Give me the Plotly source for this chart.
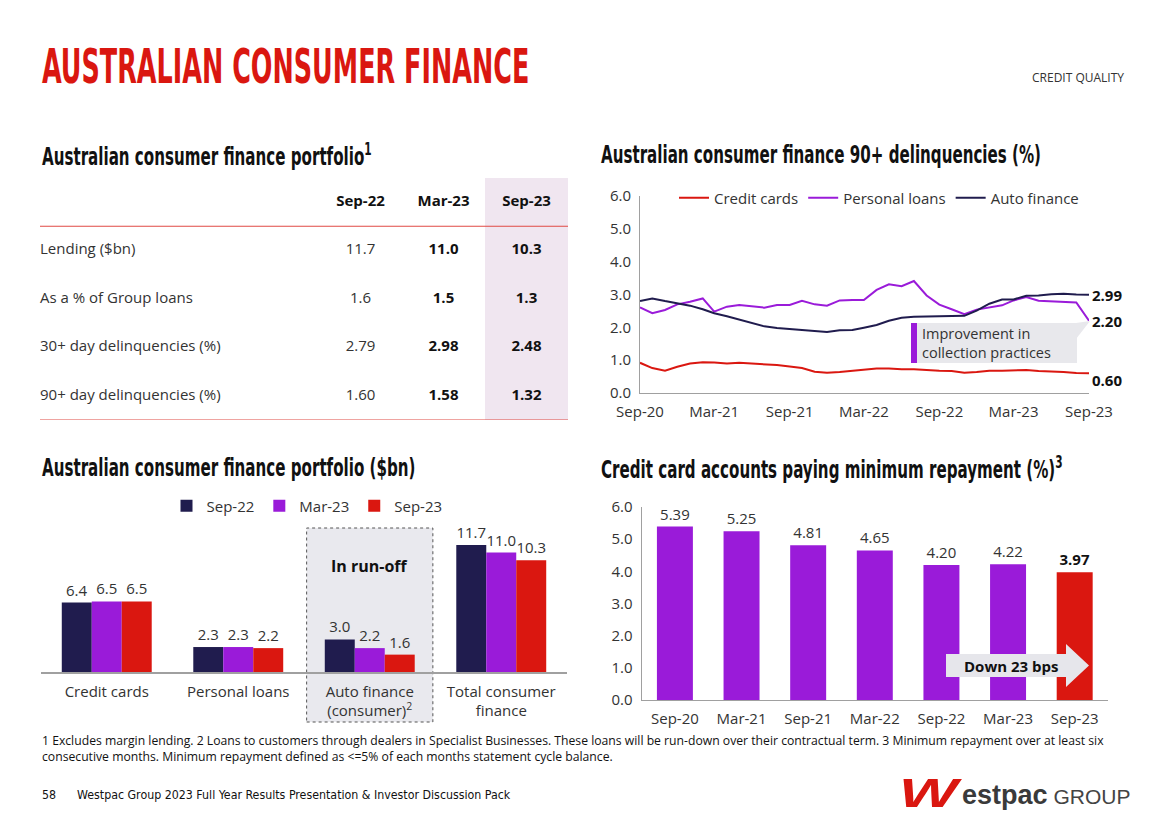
import json
import re
import plotly.graph_objects as go
import pandas as pd

W, H = 1168, 825


def px(x):
    return x / W


def py(y):
    return 1 - y / H


RED = "#DA1710"
NAVY = "#201C4E"
PURPLE = "#9A1BD9"
TXT = "#333333"
DARK = "#111111"
AXIS = "#A0A0A0"
BODY = "Open Sans"
COND = "DejaVu Sans Condensed, DejaVu Sans, sans-serif"
FS = 15

# ---------------- data ----------------
table_cols = ["Sep-22", "Mar-23", "Sep-23"]
table_rows = ["Lending ($bn)", "As a % of Group loans",
              "30+ day delinquencies (%)", "90+ day delinquencies (%)"]
table_sep22 = ["11.7", "1.6", "2.79", "1.60"]
table_mar23 = ["11.0", "1.5", "2.98", "1.58"]
table_sep23 = ["10.3", "1.3", "2.48", "1.32"]

line_months = pd.date_range("2020-09-01", "2023-09-01", freq="MS")
credit_cards = [0.92, 0.76, 0.68, 0.80, 0.90, 0.94, 0.93, 0.90, 0.92, 0.90, 0.86, 0.85,
                0.81, 0.76, 0.65, 0.62, 0.64, 0.67, 0.70, 0.75, 0.75, 0.72, 0.72, 0.69,
                0.68, 0.67, 0.62, 0.64, 0.68, 0.68, 0.69, 0.70, 0.67, 0.66, 0.64, 0.61, 0.60]
personal_loans = [2.61, 2.43, 2.53, 2.70, 2.78, 2.88, 2.48, 2.63, 2.68, 2.64, 2.60, 2.68,
                  2.68, 2.81, 2.70, 2.66, 2.82, 2.83, 2.83, 3.14, 3.31, 3.25, 3.41, 2.97,
                  2.69, 2.55, 2.40, 2.54, 2.61, 2.67, 2.82, 2.92, 2.81, 2.79, 2.79, 2.76, 2.20]
auto_finance = [2.80, 2.88, 2.80, 2.72, 2.66, 2.55, 2.43, 2.34, 2.24, 2.13, 2.03, 1.98,
                1.95, 1.90, 1.88, 1.86, 1.91, 1.92, 1.99, 2.07, 2.20, 2.29, 2.32, 2.33,
                2.33, 2.33, 2.35, 2.51, 2.72, 2.85, 2.85, 2.96, 2.97, 3.01, 3.02, 3.00, 2.99]
line_ticklabels = ["Sep-20", "Mar-21", "Sep-21", "Mar-22", "Sep-22", "Mar-23", "Sep-23"]

portfolio_cats = ["Credit cards", "Personal loans",
                  "Auto finance<br>(consumer)<sup>2</sup>", "Total consumer<br>finance"]
portfolio_sep22 = [6.4, 2.3, 3.0, 11.7]
portfolio_mar23 = [6.5, 2.3, 2.2, 11.0]
portfolio_sep23 = [6.5, 2.2, 1.6, 10.3]

minrep_periods = ["Sep-20", "Mar-21", "Sep-21", "Mar-22", "Sep-22", "Mar-23", "Sep-23"]
minrep_values = [5.39, 5.25, 4.81, 4.65, 4.20, 4.22, 3.97]

fig = go.Figure()

# ---------------- table ----------------
row_pos = list(range(1, len(table_rows) + 1))
label_x = 1 - (360.5 - 40) / 83
fig.add_trace(go.Scatter(x=[label_x] * len(table_rows), y=row_pos, text=table_rows,
                         mode="text", textposition="middle right",
                         textfont=dict(family=BODY, size=FS, color=TXT),
                         xaxis="x", yaxis="y", showlegend=False, hoverinfo="skip",
                         cliponaxis=False))
fig.add_trace(go.Scatter(x=[1, 2, 3], y=[0, 0, 0], text=table_cols, mode="text",
                         textfont=dict(family=BODY, size=FS, color=DARK, weight="bold"),
                         xaxis="x", yaxis="y", showlegend=False, hoverinfo="skip",
                         cliponaxis=False))
for ci, (vals, bold) in enumerate([(table_sep22, False), (table_mar23, True),
                                   (table_sep23, True)]):
    fig.add_trace(go.Scatter(x=[ci + 1] * len(vals), y=row_pos, text=vals, mode="text",
                             textfont=dict(family=BODY, size=FS,
                                           color=DARK if bold else TXT,
                                           weight="bold" if bold else "normal"),
                             xaxis="x", yaxis="y", showlegend=False, hoverinfo="skip",
                             cliponaxis=False))

# ---------------- line chart ----------------
for name, vals, col in [("Credit cards", credit_cards, RED),
                        ("Personal loans", personal_loans, PURPLE),
                        ("Auto finance", auto_finance, NAVY)]:
    fig.add_trace(go.Scatter(x=line_months, y=vals, name=name, mode="lines",
                             line=dict(color=col, width=2), xaxis="x2", yaxis="y2",
                             legend="legend2", hoverinfo="skip", cliponaxis=False))

# ---------------- portfolio bars ----------------
for name, vals, col in [("Sep-22", portfolio_sep22, NAVY),
                        ("Mar-23", portfolio_mar23, PURPLE),
                        ("Sep-23", portfolio_sep23, RED)]:
    fig.add_trace(go.Bar(x=portfolio_cats, y=vals, name=name,
                         marker=dict(color=col, line=dict(width=0)),
                         text=[f"{v:.1f}" for v in vals], textposition="outside",
                         textfont=dict(family=BODY, size=FS, color=TXT),
                         constraintext="none", cliponaxis=False,
                         xaxis="x3", yaxis="y3", legend="legend", hoverinfo="skip"))

# ---------------- min repayment bars ----------------
n = len(minrep_values)
fig.add_trace(go.Bar(x=minrep_periods, y=minrep_values,
                     marker=dict(color=[PURPLE] * (n - 1) + [RED], line=dict(width=0)),
                     width=0.54,
                     text=[f"{v:.2f}" for v in minrep_values[:-1]] + [f"<b>{minrep_values[-1]:.2f}</b>"],
                     textposition="outside", constraintext="none", cliponaxis=False,
                     textfont=dict(family=BODY, size=FS, color=[TXT] * (n - 1) + [DARK]),
                     xaxis="x4", yaxis="y4", showlegend=False, hoverinfo="skip"))

tickfont = dict(family=BODY, size=FS, color=TXT)

fig.update_layout(
    width=W, height=H, margin=dict(l=0, r=0, t=0, b=0, pad=0, autoexpand=False),
    paper_bgcolor="white", plot_bgcolor="rgba(0,0,0,0)",
    bargap=0.316, bargroupgap=0, barmode="group",
    xaxis=dict(domain=[px(40), px(568)], range=[label_x, 3.5], visible=False, fixedrange=True),
    yaxis=dict(domain=[py(420), py(178)], range=[4.495, -0.495], visible=False, fixedrange=True),
    xaxis2=dict(domain=[px(640), px(1089)], type="date",
                range=[line_months[0], line_months[-1]],
                tickvals=list(line_months[::6]), ticktext=line_ticklabels,
                showline=True, linecolor=AXIS, linewidth=1, showgrid=False, zeroline=False,
                ticks="", tickfont=tickfont, anchor="y2", automargin=False,
                ticklabelstandoff=5),
    yaxis2=dict(domain=[py(393), py(196)], range=[0, 6], dtick=1, tickformat=".1f",
                showline=True, linecolor=AXIS, linewidth=1, showgrid=False, zeroline=False,
                ticks="", tickfont=tickfont, anchor="x2", ticklabelstandoff=5, automargin=False),
    xaxis3=dict(domain=[px(41), px(567)], showline=True, linecolor=AXIS, linewidth=1.5,
                showgrid=False, zeroline=False, ticks="", tickfont=tickfont, anchor="y3",
                automargin=False, ticklabelstandoff=5),
    yaxis3=dict(domain=[py(672), py(520)], range=[0, 14], visible=False, anchor="x3"),
    xaxis4=dict(domain=[px(641.6), px(1108)], showline=True, linecolor=AXIS, linewidth=1,
                showgrid=False, zeroline=False, ticks="", tickfont=tickfont, anchor="y4",
                automargin=False, ticklabelstandoff=5),
    yaxis4=dict(domain=[py(700), py(507)], range=[0, 6], dtick=1, tickformat=".1f",
                showline=True, linecolor=AXIS, linewidth=1, showgrid=False, zeroline=False,
                ticks="", tickfont=tickfont, anchor="x4", ticklabelstandoff=5, automargin=False),
    legend=dict(orientation="h", x=px(307), xanchor="center", y=py(506), yanchor="middle",
                font=dict(family=BODY, size=FS, color=TXT), bgcolor="rgba(0,0,0,0)",
                itemwidth=30, traceorder="normal"),
    legend2=dict(orientation="h", x=px(674), xanchor="left", y=py(198), yanchor="middle",
                 font=dict(family=BODY, size=FS, color=TXT), bgcolor="rgba(0,0,0,0)",
                 itemwidth=30, traceorder="normal"),
)

shapes = []
# table decorations
shapes.append(dict(type="rect", xref="x", yref="y domain", x0=2.5, x1=3.5, y0=0, y1=1,
                   fillcolor="#F0E6F0", line=dict(width=0), layer="below"))
for yv in [0.5, 4.495]:
    shapes.append(dict(type="line", xref="x domain", yref="y", x0=0, x1=1, y0=yv, y1=yv,
                       line=dict(color="#E04A44", width=1.2)))
# run-off box
shapes.append(dict(type="rect", xref="x3", yref="paper", x0=1.52, x1=2.48,
                   y0=py(722), y1=py(528), fillcolor="#E9E9EE",
                   line=dict(color="#555555", width=1, dash="dot"), layer="below"))
# callout box in line chart
shapes.append(dict(type="rect", xref="paper", yref="paper", x0=px(911), x1=px(1077),
                   y0=py(363), y1=py(323), fillcolor="#E8E8EC", line=dict(width=0)))
shapes.append(dict(type="path", xref="paper", yref="paper",
                   path=f"M {px(1076)} {py(323)} L {px(1090)} {py(321)} L {px(1076)} {py(339)} Z",
                   fillcolor="#E8E8EC", line=dict(width=0)))
shapes.append(dict(type="rect", xref="paper", yref="paper", x0=px(911), x1=px(917),
                   y0=py(363), y1=py(323), fillcolor=PURPLE, line=dict(width=0)))
# down arrow
arrow = [(946, 654), (1066, 654), (1066, 644), (1089, 665.5), (1066, 687), (1066, 677), (946, 677)]
path = "M " + " L ".join(f"{px(a)} {py(b)}" for a, b in arrow) + " Z"
shapes.append(dict(type="path", xref="paper", yref="paper", path=path,
                   fillcolor="#E6E6EB", line=dict(width=0), layer="above"))
fig.update_layout(shapes=shapes)

ann = []


def note(x, y, text, size, color=TXT, family=BODY, xanchor="left", yanchor="middle", **kw):
    ann.append(dict(x=px(x), y=py(y), xref="paper", yref="paper", text=text, showarrow=False,
                    xanchor=xanchor, yanchor=yanchor, align="left",
                    font=dict(family=family, size=size, color=color, **kw)))


TITLE = "AUSTRALIAN CONSUMER FINANCE"
HEADINGS = ["Australian consumer finance portfolio<sup>1</sup>",
            "Australian consumer finance 90+ delinquencies (%)",
            "Australian consumer finance portfolio ($bn)",
            "Credit card accounts paying minimum repayment (%)<sup>3</sup>"]
LOGO_W = "W"
LOGO_REST = '<b>estpac</b><span style="font-size:21px;color:#444444"> GROUP</span>'

note(40, 66, TITLE, 48, RED, COND, weight="bold")
note(1126, 78, "CREDIT QUALITY", 12, TXT, BODY, xanchor="right")
note(40, 155, HEADINGS[0], 24, DARK, COND, weight="bold")
note(599, 155, HEADINGS[1], 24, DARK, COND, weight="bold")
note(40, 468, HEADINGS[2], 24, DARK, COND, weight="bold")
note(599, 468, HEADINGS[3], 24, DARK, COND, weight="bold")

# line end labels
for val, ys in [(auto_finance[-1], 0), (personal_loans[-1], 0), (credit_cards[-1], -7)]:
    ann.append(dict(x=line_months[-1], y=val, xref="x2", yref="y2", text=f"<b>{val:.2f}</b>",
                    showarrow=False, xanchor="left", yanchor="middle", xshift=1, yshift=ys,
                    font=dict(family=BODY, size=15, color=DARK)))

note(920, 343, "Improvement in<br>collection practices", 14.5, TXT, BODY)
note(1011, 666, "<b>Down 23 bps</b>", 15, DARK, BODY, xanchor="center")
ann.append(dict(x=2, y=py(566), xref="x3", yref="paper", text="<b>In run-off</b>",
                showarrow=False, xanchor="center", yanchor="middle",
                font=dict(family=BODY, size=16, color=DARK)))

note(40, 748, "1 Excludes margin lending. 2 Loans to customers through dealers in Specialist Businesses. "
     "These loans will be run-down over their contractual term. 3 Minimum repayment over at least six<br>"
     "consecutive months. Minimum repayment defined as &lt;=5% of each months statement cycle balance.",
     12.2, DARK, BODY)
note(40, 795, "58", 12.3, DARK, COND)
note(75, 795, "Westpac Group 2023 Full Year Results Presentation &amp; Investor Discussion Pack",
     12.3, DARK, COND)
note(897, 793, LOGO_W, 40, RED, "Liberation Sans, Arial, sans-serif", weight="bold", style="italic")
note(960, 795, LOGO_REST, 27, "#3A3A3A", "Liberation Sans, Arial, sans-serif")

fig.update_layout(annotations=ann)


def plain(t):
    return re.sub(r"<[^>]+>", "", t)


# condensed display face: squeeze heading texts horizontally (text stays real text)
# entries: [key, scaleX, exact-match?]
squeeze = [[plain(TITLE), 0.59, False]]
squeeze += [[plain(h.split("<")[0]), 0.70, False] for h in HEADINGS]
squeeze += [[LOGO_W, 1.55, True]]
post = (
    "var sq = " + json.dumps(squeeze) + ";\n"
    "var nodes = document.querySelectorAll('text.annotation-text');\n"
    "nodes.forEach(function(t){\n"
    "  var s = (t.textContent || '').replace(/\\u200b/g, '').trim();\n"
    "  for (var i = 0; i < sq.length; i++) {\n"
    "    var ok = sq[i][2] ? (s === sq[i][0]) : (s.indexOf(sq[i][0]) === 0);\n"
    "    if (ok) {\n"
    "      t.style.transformBox = 'fill-box';\n"
    "      t.style.transformOrigin = '0px 50%';\n"
    "      t.style.transform = 'scaleX(' + sq[i][1] + ')';\n"
    "      break;\n"
    "    }\n"
    "  }\n"
    "});\n"
)
fig.write_html("out.html", post_script=post)
